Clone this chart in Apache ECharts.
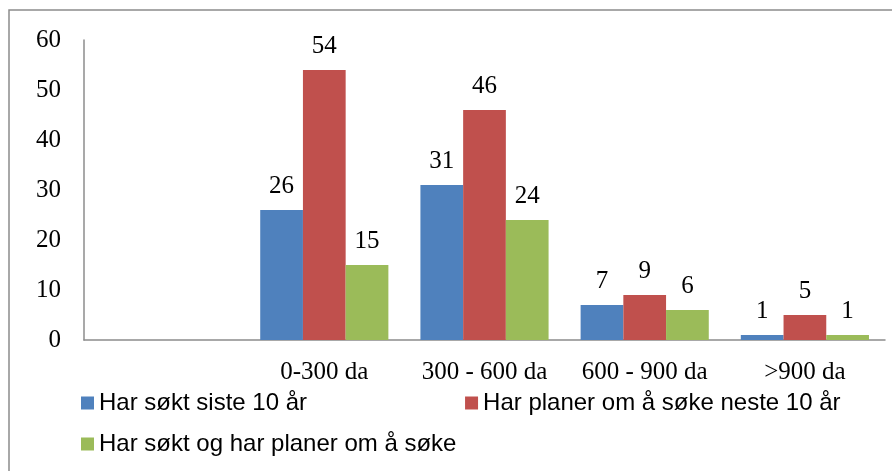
<!DOCTYPE html>
<html><head><meta charset="utf-8">
<script src="https://cdn.jsdelivr.net/npm/echarts@6/dist/echarts.min.js"></script>
<style>html,body{margin:0;padding:0;background:#fff}#c{width:892px;height:471px}</style>
</head><body><div id="c"></div>
<script>
const categories = ['', '0-300 da', '300 - 600 da', '600 - 900 da', '>900 da'];
const seriesNames = ['Har søkt siste 10 år', 'Har planer om å søke neste 10 år', 'Har søkt og har planer om å søke'];
const soktSiste = [null, 26, 31, 7, 1];
const planerNeste = [null, 54, 46, 9, 5];
const soktOgPlaner = [null, 15, 24, 6, 1];
const yTicks = { min: 0, max: 60, interval: 10 };
const colors = ['#4F81BD', '#C0504D', '#9BBB59'];

const chart = echarts.init(document.getElementById('c'));
const serif = '"Liberation Serif", "Times New Roman", serif';
const sans = '"Liberation Sans", Arial, sans-serif';
const values = [soktSiste, planerNeste, soktOgPlaner];
chart.setOption({
  animation: false,
  graphic: [{ type: 'rect', shape: { x: 9, y: 10, width: 1000, height: 600 }, style: { fill: 'none', stroke: '#8c8c8c', lineWidth: 1.5 }, z: -1 }],
  grid: { left: 84, right: 7, top: 40, bottom: 131 },
  legend: [
    { data: [seriesNames[0], seriesNames[1]], left: 81, top: 391, padding: 0, itemWidth: 13, itemHeight: 13, itemGap: 158, icon: 'rect',
      textStyle: { fontFamily: sans, fontSize: 24, color: '#000' } },
    { data: [seriesNames[2]], left: 81, top: 432, padding: 0, itemWidth: 13, itemHeight: 13, icon: 'rect',
      textStyle: { fontFamily: sans, fontSize: 24, color: '#000' } }
  ],
  xAxis: {
    type: 'category', data: categories,
    axisLine: { lineStyle: { color: '#8c8c8c', width: 1.5 } }, axisTick: { show: false },
    axisLabel: { interval: 0, fontFamily: serif, fontSize: 25, color: '#000', margin: 20 }
  },
  yAxis: {
    type: 'value', min: yTicks.min, max: yTicks.max, interval: yTicks.interval,
    axisLine: { show: true, lineStyle: { color: '#8c8c8c', width: 1.5 } }, axisTick: { show: false },
    splitLine: { show: false },
    axisLabel: { fontFamily: serif, fontSize: 25, color: '#000', margin: 23 }
  },
  series: values.map((v, i) => ({
    name: seriesNames[i], type: 'bar', data: v, barGap: '0%', barCategoryGap: '20%',
    itemStyle: { color: colors[i] },
    label: { show: true, position: 'top', distance: 11, fontFamily: serif, fontSize: 25, color: '#000' }
  }))
});
</script></body></html>
